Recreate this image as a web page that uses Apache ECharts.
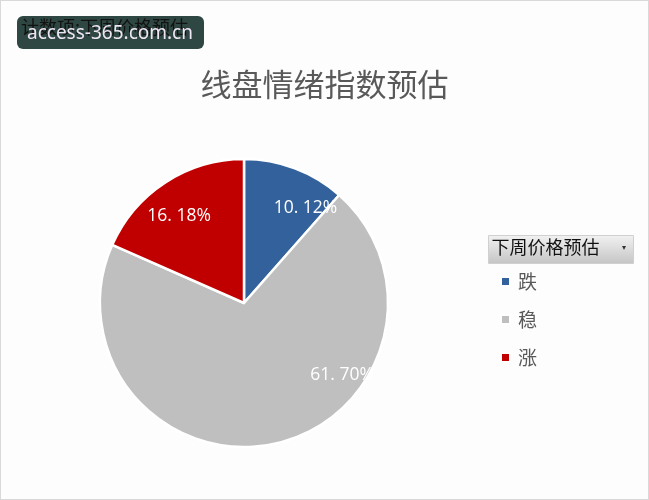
<!DOCTYPE html>
<html><head><meta charset="utf-8">
<script src="https://cdn.jsdelivr.net/npm/echarts@6/dist/echarts.min.js"></script>
<style>
html,body{margin:0;padding:0;background:#fff;}
#c{width:647px;height:498px;border:1px solid #d9d9d9;background:#fcfdfc;}
</style></head>
<body><div id="c"></div>
<script>
const categories = ['跌', '稳', '涨'];
const values = [10.12, 61.70, 16.18];
const colors = ['#33619c', '#bfbfbf', '#c00000'];
const titleText = '线盘情绪指数预估';
const legendTitle = '下周价格预估';
const fieldLabel = '计数项:下周价格预估';
const watermark = 'access-365.com.cn';

const labelOffsets = [[35, -25], [82, -1], [-24, -24]];

const chart = echarts.init(document.getElementById('c'));
const cjk = '"Noto Sans CJK SC", "Microsoft YaHei", sans-serif';
chart.setOption({
  backgroundColor: '#fcfdfc',
  animation: false,
  title: {
    text: titleText, left: 'center', top: 63,
    textStyle: {fontFamily: cjk, fontSize: 31, fontWeight: 'normal', color: '#595959'}
  },
  legend: {
    orient: 'vertical', left: 494, top: 266, itemGap: 19,
    itemWidth: 9, itemHeight: 9, icon: 'rect',
    textStyle: {fontFamily: cjk, fontSize: 19, color: '#595959', padding: [0, 0, 0, 3]},
    data: categories
  },
  graphic: [
    {type: 'group', left: 487, top: 234, children: [
      {type: 'rect', shape: {x: 0, y: 0, width: 145, height: 28},
        style: {fill: new echarts.graphic.LinearGradient(0, 0, 0, 1, [
          {offset: 0, color: '#f2f2f2'}, {offset: 1, color: '#c4c4c4'}]), stroke: '#d0d0d0', lineWidth: 1}},
      {type: 'text', x: 3, y: 3, style: {text: legendTitle, font: '18px ' + cjk, fill: '#111'}},
      {type: 'text', x: 133, y: 8, style: {text: '▾', font: '8px sans-serif', fill: '#333'}}
    ]},
    {type: 'group', left: 16, top: 15, children: [
      {type: 'rect', shape: {x: 0, y: 0, width: 187, height: 33, r: 6}, style: {fill: '#2f4742'}},
      {type: 'text', x: 4, y: 2, style: {text: fieldLabel, font: '18px ' + cjk, fill: '#111'}},
      {type: 'text', x: 10, y: 8, style: {text: watermark, font: '19px "Noto Sans", sans-serif', fill: '#efe6f5'}}
    ]}
  ],
  series: [{
    type: 'pie',
    center: [243, 302], radius: 144,
    startAngle: 90, clockwise: true,
    data: categories.map((c, i) => ({name: c, value: values[i], itemStyle: {color: colors[i]}})),
    itemStyle: {borderColor: '#fff', borderWidth: 2.5},
    label: {
      show: true, position: 'inside',
      formatter: p => p.value.toFixed(2).replace('.', '. ') + '%',
      color: '#fff', fontSize: 17.5, fontFamily: '"Open Sans", Lato, sans-serif'
    },
    labelLine: {show: false},
    labelLayout: p => ({dx: labelOffsets[p.dataIndex][0], dy: labelOffsets[p.dataIndex][1]}),
    emphasis: {disabled: true}
  }]
});
</script></body></html>
